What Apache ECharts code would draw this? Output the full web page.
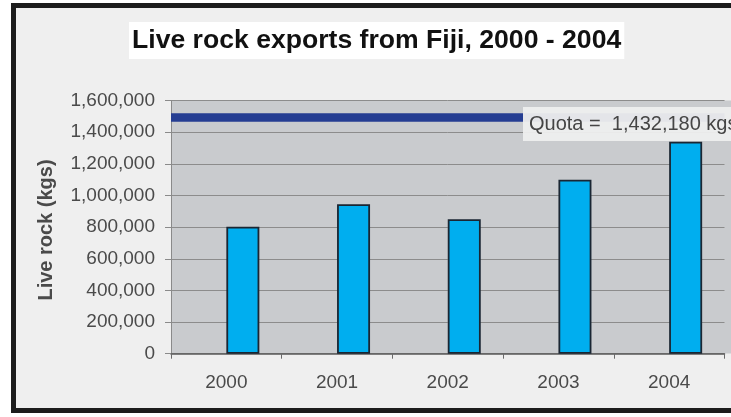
<!DOCTYPE html>
<html>
<head>
<meta charset="utf-8">
<script src="https://cdn.jsdelivr.net/npm/echarts@6/dist/echarts.min.js"></script>
<style>html,body{margin:0;padding:0;background:#fff;}#c{width:731px;height:417px;}</style>
</head>
<body>
<div id="c"></div>
<script>
const titleText = 'Live rock exports from Fiji, 2000 - 2004';
const yAxisName = 'Live rock (kgs)';
const years = ['2000', '2001', '2002', '2003', '2004'];
const exportsKg = [803000, 945000, 850000, 1100000, 1340000];
const padSeries = [null, null, null, null, null];
const quotaDrawnAt = 1495000;
const quotaLabel = 'Quota =  1,432,180 kgs';
const yMin = 0, yMax = 1600000, yStep = 200000;

const chart = echarts.init(document.getElementById('c'), null, {renderer: 'canvas'});
const FONT = '"Liberation Sans", Arial, sans-serif';
chart.setOption({
  animation: false,
  backgroundColor: '#ffffff',
  title: {
    text: titleText,
    left: 129, top: 22,
    padding: [4, 3, 3, 3],
    backgroundColor: '#ffffff',
    textStyle: {fontFamily: FONT, fontWeight: 'bold', fontSize: 26.6, color: '#111', lineHeight: 30}
  },
  graphic: [
    {type: 'rect', z: -100, shape: {x: 13.5, y: 5.5, width: 800, height: 405}, style: {fill: '#efefef', stroke: '#1c1c1c', lineWidth: 5}},
    {type: 'rect', z: -50, shape: {x: 724, y: 100.5, width: 10, height: 253}, style: {fill: '#c9cbce'}},
    {type: 'rect', z: 100, shape: {x: 523, y: 107, width: 220, height: 34}, style: {fill: 'rgba(238,238,238,0.95)'}},
    {type: 'text', z: 101, x: 529, y: 124, style: {text: quotaLabel, fill: '#454545', font: '20px ' + FONT, textVerticalAlign: 'middle'}},
    {type: 'text', z: 101, x: 46, y: 230, rotation: Math.PI / 2, style: {text: yAxisName, fill: '#4a4a4a', font: 'bold 20px ' + FONT, textAlign: 'center', textVerticalAlign: 'middle'}}
  ],
  grid: {left: 171, top: 100.5, width: 553.5, bottom: 63.3, show: true, backgroundColor: '#c9cbce', borderWidth: 0},
  xAxis: {
    type: 'category', data: years,
    axisLine: {lineStyle: {color: '#5a5a5a', width: 1.5}},
    axisTick: {show: true, length: 5, lineStyle: {color: '#6a6a6a'}},
    axisLabel: {fontFamily: FONT, fontSize: 19, color: '#4a4a4a', margin: 20}
  },
  yAxis: {
    type: 'value', min: yMin, max: yMax, interval: yStep,
    axisLine: {show: true, lineStyle: {color: '#8a8a8a'}},
    axisTick: {show: true, length: 6, lineStyle: {color: '#8a8a8a'}},
    axisLabel: {fontFamily: FONT, fontSize: 19, color: '#4a4a4a', margin: 16,
      formatter: v => v.toLocaleString('en-US')},
    splitLine: {show: true, lineStyle: {color: '#8c8c8c', width: 1}}
  },
  series: [
    {type: 'bar', name: 'pad', data: padSeries, barWidth: 33, barGap: '0%'},
    {type: 'bar', name: 'exports', data: exportsKg, barWidth: 33, barGap: '0%',
      itemStyle: {color: '#00aeef', borderColor: '#1a2633', borderWidth: 1.8},
      markLine: {silent: true, symbol: 'none', label: {show: false},
        lineStyle: {color: '#253d92', width: 8.5, type: 'solid'},
        data: [{yAxis: quotaDrawnAt}]}
    }
  ]
});
</script>
</body>
</html>
